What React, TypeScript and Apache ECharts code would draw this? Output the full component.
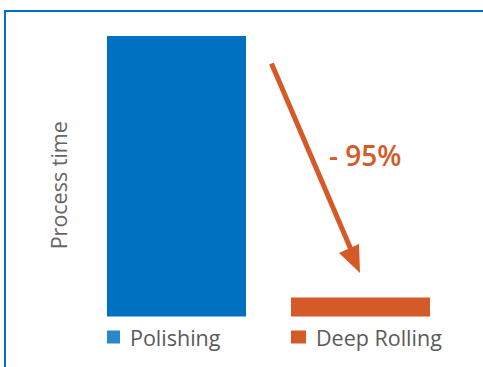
import React, { useEffect, useRef } from "react";
import * as echarts from "echarts";

const categories = ["Polishing", "Deep Rolling"];
const baseOffsets = [0, 2.5];
const processTime = [100, 6.8];
const barColors = ["#0070c0", "#d45a28"];
const legendColors = ["#2a87cc", "#d45a28"];
const reductionLabel = "- 95%";
const axisName = "Process time";

export default function App() {
  const ref = useRef<HTMLDivElement>(null);
  useEffect(() => {
    if (!ref.current) return;
    const chart = echarts.init(ref.current, null, { renderer: "svg" });
    const font = "'Open Sans', sans-serif";
    chart.setOption({
      animation: false,
      backgroundColor: "#ffffff",
      grid: { left: 84.5, right: 30.5, top: 36, bottom: 50.5 },
      xAxis: {
        type: "category",
        data: categories,
        axisLine: { show: false },
        axisTick: { show: false },
        axisLabel: { show: false },
      },
      yAxis: {
        type: "value",
        min: 0,
        max: 100,
        splitLine: { show: false },
        axisLine: { show: false },
        axisTick: { show: false },
        axisLabel: { show: false },
        name: axisName,
        nameLocation: "middle",
        nameGap: 15,
        nameTextStyle: {
          color: "#666666",
          fontSize: 21.5,
          fontFamily: font,
          padding: [0, 18, 0, 0],
        },
      },
      legend: [
        {
          data: [{ name: categories[0], itemStyle: { color: legendColors[0] } }],
          left: 107,
          top: 326,
          padding: 0,
          itemWidth: 13,
          itemHeight: 13,
          icon: "rect",
          textStyle: { color: "#5a5a5a", fontSize: 21.5, fontFamily: font, padding: [0, 0, 0, 5] },
        },
        {
          data: [{ name: categories[1], itemStyle: { color: legendColors[1] } }],
          left: 291,
          top: 326,
          padding: 0,
          itemWidth: 15,
          itemHeight: 13,
          icon: "rect",
          textStyle: { color: "#5a5a5a", fontSize: 21.5, fontFamily: font, padding: [0, 0, 0, 5] },
        },
      ],
      series: [
        {
          name: "base",
          type: "bar",
          stack: "s",
          barWidth: 139,
          itemStyle: { color: "transparent" },
          data: baseOffsets,
          silent: true,
        },
        {
          name: categories[0],
          type: "bar",
          stack: "s",
          barWidth: 139,
          itemStyle: { color: barColors[0] },
          data: [processTime[0], "-"],
        },
        {
          name: categories[1],
          type: "bar",
          stack: "s2",
          barWidth: 139,
          barGap: "-100%",
          itemStyle: { color: barColors[1] },
          data: ["-", processTime[1]],
        },
      ],
      graphic: [
        {
          type: "rect",
          shape: { x: 5, y: 11, width: 600, height: 500 },
          style: { fill: "none", stroke: "#0070c0", lineWidth: 2 },
          z: 10,
        },
        {
          type: "line",
          shape: { x1: 271.5, y1: 63.5, x2: 352, y2: 252 },
          style: { stroke: "#d45a28", lineWidth: 5 },
        },
        {
          type: "polygon",
          shape: { points: [[339, 253], [359, 244], [360, 273]] },
          style: { fill: "#d45a28" },
        },
        {
          type: "text",
          left: 329,
          top: 141,
          style: {
            text: reductionLabel,
            fill: "#d45a28",
            font: `600 28px ${font}`,
          },
        },
      ],
    });
    return () => chart.dispose();
  }, []);
  return <div ref={ref} style={{ width: 483, height: 367, position: "absolute", left: 0, top: 0 }} />;
}
